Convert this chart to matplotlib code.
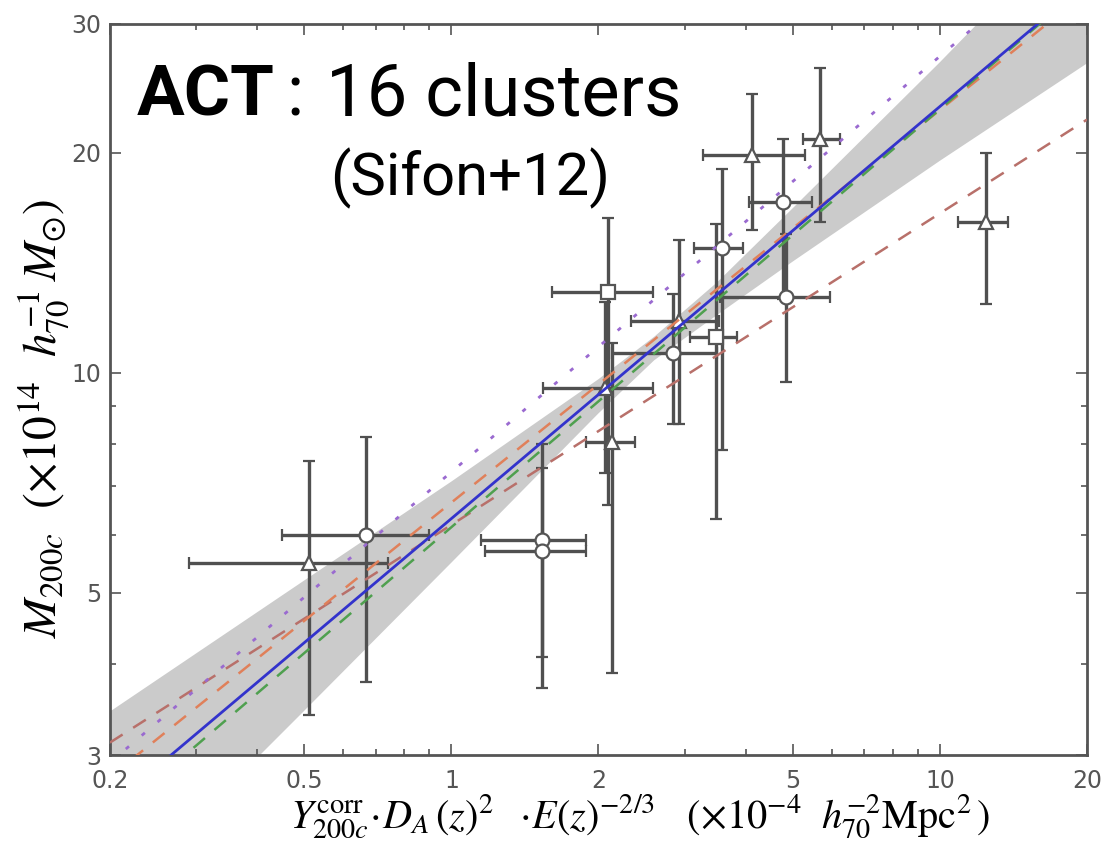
import matplotlib
matplotlib.use("Agg")
import matplotlib.pyplot as plt
from matplotlib.ticker import FixedLocator, FixedFormatter, NullFormatter, LogLocator

plt.rcParams["mathtext.fontset"] = "stix"

markers = ["^", "o", "o", "o", "s", "^", "^", "o", "^", "s", "o", "^", "o", "o", "^", "^"]
ysz = [0.51, 0.67, 1.53, 1.53, 2.09, 2.06, 2.13, 2.84, 2.92, 3.48, 3.58, 4.12, 4.77, 4.84, 5.68, 12.4]
ysz_lo = [0.29, 0.45, 1.15, 1.17, 1.61, 1.54, 1.89, 2.13, 2.33, 3.08, 3.14, 3.27, 4.07, 3.54, 5.25, 10.9]
ysz_hi = [0.74, 0.90, 1.89, 1.89, 2.59, 2.58, 2.38, 3.50, 3.53, 3.84, 3.95, 5.29, 5.47, 5.96, 6.24, 13.8]
mass = [5.5, 6.0, 5.9, 5.7, 12.9, 9.54, 8.04, 10.65, 11.77, 11.2, 14.8, 19.85, 17.1, 12.7, 20.9, 16.1]
mass_lo = [3.40, 3.78, 4.08, 3.70, 6.6, 7.3, 3.89, 8.5, 8.5, 6.3, 7.84, 15.7, 12.6, 9.7, 16.1, 12.4]
mass_hi = [7.57, 8.17, 8.0, 7.4, 16.3, 12.5, 11.0, 12.8, 15.2, 16.0, 19.0, 24.1, 20.9, 15.5, 26.1, 20.0]

# scaling-relation fits: values at the two ends of the x range
fit_x = [0.2, 20.0]
fit_blue = [2.55, 34.2]
fit_green = [2.45, 34.1]
fit_orange = [2.80, 33.2]
fit_purple = [2.93, 40.2]
fit_brown = [3.12, 22.2]

# confidence band of the blue fit
band_x = [0.2, 0.5, 1.0, 2.0, 2.6, 3.5, 5.0, 10.0, 20.0]
band_lo = [1.87, 3.45, 5.5, 8.8, 10.4, 12.0, 14.2, 19.5, 26.5]
band_hi = [3.44, 5.2, 7.1, 9.8, 11.2, 13.3, 16.8, 26.6, 42.8]

xticks = [0.2, 0.5, 1, 2, 5, 10, 20]
xtick_labels = ["0.2", "0.5", "1", "2", "5", "10", "20"]
yticks = [3, 5, 10, 20, 30]
ytick_labels = ["3", "5", "10", "20", "30"]

gray = "#555555"

fig = plt.figure(figsize=(11.04, 8.42), dpi=100)
ax = fig.add_axes([0.0996, 0.1033, 0.8850, 0.8682])
ax.set_xscale("log")
ax.set_yscale("log")

ax.fill_between(band_x, band_lo, band_hi, color="#cbcbcb", lw=0, zorder=1)

for i in range(len(ysz)):
    ax.errorbar(ysz[i], mass[i],
                xerr=[[ysz[i] - ysz_lo[i]], [ysz_hi[i] - ysz[i]]],
                yerr=[[mass[i] - mass_lo[i]], [mass_hi[i] - mass[i]]],
                fmt=markers[i], ms=10, mfc="white", mec=gray, mew=1.6,
                ecolor="#505050", elinewidth=2.4, capsize=4, capthick=1.8,
                zorder=3)

ax.plot(fit_x, fit_brown, ls=(0, (6, 5)), color="#b8706a", lw=1.8, zorder=4)
ax.plot(fit_x, fit_purple, ls=(0, (1.5, 6)), color="#9a6ad0", lw=2.0, zorder=4)
ax.plot(fit_x, fit_orange, ls=(0, (6, 5)), color="#e0805a", lw=1.8, zorder=4)
ax.plot(fit_x, fit_green, ls=(0, (6, 5)), color="#4fa04f", lw=1.8, zorder=4)
ax.plot(fit_x, fit_blue, ls="-", color="#3333cc", lw=2.0, zorder=5)

ax.set_xlim(0.2, 20)
ax.set_ylim(3, 30)

ax.xaxis.set_major_locator(FixedLocator(xticks))
ax.xaxis.set_major_formatter(FixedFormatter(xtick_labels))
ax.yaxis.set_major_locator(FixedLocator(yticks))
ax.yaxis.set_major_formatter(FixedFormatter(ytick_labels))
ax.xaxis.set_minor_locator(LogLocator(base=10, subs=range(2, 10)))
ax.yaxis.set_minor_locator(LogLocator(base=10, subs=range(2, 10)))
ax.xaxis.set_minor_formatter(NullFormatter())
ax.yaxis.set_minor_formatter(NullFormatter())
ax.tick_params(which="both", direction="in", top=True, right=True, colors=gray,
               labelcolor=gray, labelsize=17, width=1.2)
ax.tick_params(which="major", length=8)
ax.tick_params(axis="x", which="major", pad=10)
ax.tick_params(axis="y", which="major", pad=6)
ax.tick_params(which="minor", length=4)
for sp in ax.spines.values():
    sp.set_color(gray)
    sp.set_linewidth(2)

ax.set_xlabel(r"$Y^{\rm corr}_{200c}\!\cdot\! D_A\,(z)^2\ \ \cdot\! E(z)^{-2/3}$   "
              r"$(\times10^{-4}\ \ h_{70}^{-2}{\rm Mpc}^2\,)$",
              family="STIXGeneral", fontsize=29, va="center")
ax.xaxis.set_label_coords(0.5425, -0.085)
ax.set_ylabel(r"$M_{200c}\ \ (\times10^{14}\ \ h_{70}^{-1}\,M_{\odot})$",
              family="STIXGeneral", fontsize=34, va="center")
ax.yaxis.set_label_coords(-0.068, 0.46)

fig.text(137 / 1104, 1 - 115 / 842, "ACT", fontsize=51, fontweight="bold",
         family="Roboto", ha="left", va="baseline")
fig.text(286 / 1104, 1 - 115 / 842, ":", fontsize=51,
         family="Roboto", ha="left", va="baseline")
fig.text(326 / 1104, 1 - 115 / 842, "16 clusters", fontsize=52,
         family="Roboto", ha="left", va="baseline")
fig.text(330 / 1104, 1 - 195 / 842, "(Sifon+12)", fontsize=43,
         family="Roboto", ha="left", va="baseline")

fig.savefig("out.png", dpi=100)
